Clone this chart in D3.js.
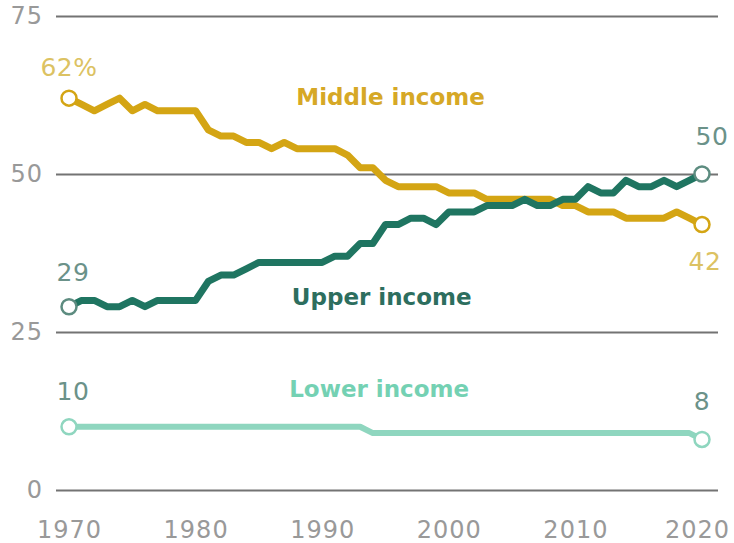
<!DOCTYPE html>
<html>
<head>
<meta charset="utf-8">
<script src="https://cdn.jsdelivr.net/npm/d3@7"></script>
<style>
  body { margin: 0; background: #fff; }
  svg { display: block; }
  text { font-family: "DejaVu Sans", sans-serif; }
</style>
</head>
<body>
<svg width="734" height="543"></svg>
<script>
  // years 1970..2020, share of aggregate income (%)
  var startYear = 1970;
  var middle = [62,61,60,61,62,60,61,60,60,60,60,57,56,56,55,55,54,55,54,54,
                54,54,53,51,51,49,48,48,48,48,47,47,47,46,46,46,46,46,46,45,
                45,44,44,44,43,43,43,43,44,43,42];
  var upper = [29,30,30,29,29,30,29,30,30,30,30,33,34,34,35,36,36,36,36,36,
               36,37,37,39,39,42,42,43,43,42,44,44,44,45,45,45,46,45,45,46,
               46,48,47,47,49,48,48,49,48,49,50];
  var lower = [10,10,10,10,10,10,10,10,10,10,10,10,10,10,10,10,10,10,10,10,
               10,10,10,10,9,9,9,9,9,9,9,9,9,9,9,9,9,9,9,9,
               9,9,9,9,9,9,9,9,9,9,8];
  var yTicks = [0, 25, 50, 75];
  var xTicks = [1970, 1980, 1990, 2000, 2010, 2020];

  var svg = d3.select('svg');

  var x = d3.scaleLinear().domain([1970, 2020]).range([69, 702]);
  var y = d3.scaleLinear().domain([0, 75]).range([490, 16]);

  // gridlines + y labels
  var yAxis = svg.append('g')
      .attr('transform', 'translate(56,0)')
      .call(d3.axisLeft(y).tickValues(yTicks).tickSize(-(718 - 56)).tickPadding(13));
  yAxis.select('.domain').remove();
  yAxis.selectAll('line').attr('stroke', '#737373').attr('stroke-width', 2);
  yAxis.selectAll('text')
      .attr('fill', '#999')
      .style('font-size', '24px')
      .style('letter-spacing', '1px');

  // x labels
  var xAxis = svg.append('g')
      .attr('transform', 'translate(0,490)')
      .call(d3.axisBottom(x).tickValues(xTicks).tickSize(0).tickPadding(31).tickFormat(d3.format('d')));
  xAxis.select('.domain').remove();
  xAxis.selectAll('text')
      .attr('fill', '#999')
      .style('font-size', '24px')
      .style('letter-spacing', '1px');
  // keep the last year inside the frame
  xAxis.selectAll('text').filter(function(d) { return d === 2020; }).attr('dx', -5);

  var series = [
    { name: 'Lower income', values: lower, color: '#8fd6bf', dot: '#8fd6bf', width: 6,
      label: '#74d1b3', lx: 1994.5, ly: 14.7 },
    { name: 'Middle income', values: middle, color: '#d4a514', dot: '#d4a514', width: 7,
      label: '#d6a826', lx: 1995.4, ly: 60.9 },
    { name: 'Upper income', values: upper, color: '#1f7561', dot: '#5d8c80', width: 7,
      label: '#2d6e5e', lx: 1994.7, ly: 29.3 }
  ];

  var line = d3.line()
      .x(function(d, i) { return x(startYear + i); })
      .y(function(d) { return y(d); });

  svg.append('g').selectAll('path')
      .data(series)
      .enter()
      .append('path')
      .attr('d', function(d) { return line(d.values); })
      .attr('fill', 'none')
      .attr('stroke', function(d) { return d.color; })
      .attr('stroke-width', function(d) { return d.width; })
      .attr('stroke-linejoin', 'round');

  // end point circles
  series.forEach(function(s) {
    var last = s.values.length - 1;
    [0, last].forEach(function(i) {
      svg.append('circle')
          .attr('cx', x(startYear + i))
          .attr('cy', y(s.values[i]))
          .attr('r', 7.5)
          .attr('fill', '#fff')
          .attr('stroke', s.dot)
          .attr('stroke-width', 2.5);
    });
  });

  // series labels
  svg.append('g').selectAll('text')
      .data(series)
      .enter()
      .append('text')
      .attr('x', function(d) { return x(d.lx); })
      .attr('y', function(d) { return y(d.ly); })
      .attr('text-anchor', 'middle')
      .attr('fill', function(d) { return d.label; })
      .style('font-size', '23px')
      .style('font-weight', 'bold')
      .text(function(d) { return d.name; });

  // value labels at both ends
  var valueLabels = [
    { t: middle[0] + '%', yr: 1970, v: middle[0], dx: 0, dy: -22, c: '#dcc262' },
    { t: upper[0], yr: 1970, v: upper[0], dx: 4, dy: -26, c: '#6b9289' },
    { t: lower[0], yr: 1970, v: lower[0], dx: 4, dy: -27, c: '#6b9289' },
    { t: upper[50], yr: 2020, v: upper[50], dx: 10, dy: -29, c: '#6b9289' },
    { t: middle[50], yr: 2020, v: middle[50], dx: 3, dy: 45, c: '#dcc262' },
    { t: lower[50], yr: 2020, v: lower[50], dx: 0, dy: -29, c: '#6b9289' }
  ];
  svg.append('g').selectAll('text')
      .data(valueLabels)
      .enter()
      .append('text')
      .attr('x', function(d) { return x(d.yr) + d.dx; })
      .attr('y', function(d) { return y(d.v) + d.dy; })
      .attr('text-anchor', 'middle')
      .attr('fill', function(d) { return d.c; })
      .style('font-size', '25px')
      .style('letter-spacing', '0.5px')
      .text(function(d) { return d.t; });
</script>
</body>
</html>
